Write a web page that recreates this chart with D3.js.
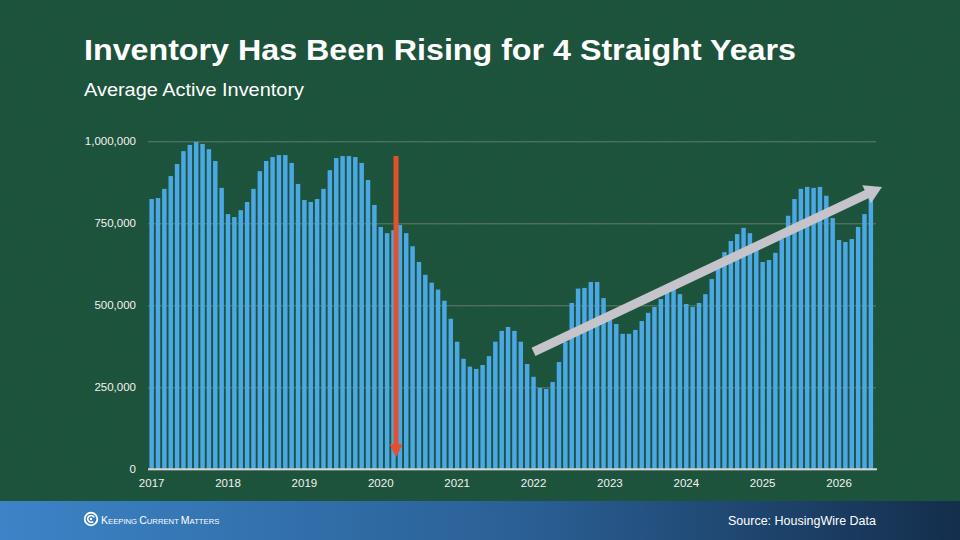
<!DOCTYPE html>
<html>
<head>
<meta charset="utf-8">
<script src="https://cdn.jsdelivr.net/npm/d3@7"></script>
<style>
  html, body { margin: 0; padding: 0; background: #244e34; }
  svg { display: block; }
</style>
</head>
<body>
<script>
// chart values (thousands of homes), monthly Jan 2017 - Jun 2026
var years = ['2017','2018','2019','2020','2021','2022','2023','2024','2025','2026'];
var inventory = [
  824, 827, 855, 894, 931, 970, 989, 998, 992, 976, 940, 858,
  778, 769, 790, 815, 855, 909, 940, 952, 958, 958, 934, 870,
  821, 815, 824, 855, 912, 949, 955, 955, 952, 934, 882, 806,
  739, 720, 729, 745, 720, 680, 632, 593, 569, 548, 514, 459,
  389, 337, 313, 306, 318, 345, 389, 422, 434, 422, 389, 321,
  282, 248, 245, 266, 327, 389, 507, 551, 553, 571, 571, 522,
  465, 443, 413, 413, 425, 452, 477, 495, 519, 540, 550, 534,
  504, 495, 507, 534, 580, 620, 662, 696, 717, 736, 720, 670,
  632, 638, 660, 702, 773, 824, 855, 861, 858, 861, 834, 766,
  699, 693, 702, 739, 778, 830
];
var yTicks = [0, 250000, 500000, 750000, 1000000];
// annotation arrows, in (bar index, value) terms
var dropArrow = { i: 38.4, from: 955000, to: 37000 };
var riseArrow = { i0: 60, v0: 358000, i1: 114.75, v1: 861000 };

var W = 960, H = 540;
var svg = d3.select('body').append('svg')
  .attr('width', W)
  .attr('height', H);

var defs = svg.append('defs');
var noise = defs.append('filter').attr('id', 'noise')
  .attr('x', 0).attr('y', 0).attr('width', '100%').attr('height', '100%');
noise.append('feTurbulence')
  .attr('type', 'fractalNoise')
  .attr('baseFrequency', 0.9)
  .attr('numOctaves', 2)
  .attr('stitchTiles', 'stitch');
noise.append('feColorMatrix')
  .attr('type', 'matrix')
  .attr('values', '0 0 0 0 0  0 0 0 0 0.12  0 0 0 0 0.06  0 0 0 0.45 0');

var grad = defs.append('linearGradient').attr('id', 'foot')
  .attr('x1', '0%').attr('x2', '100%').attr('y1', '0%').attr('y2', '0%');
grad.append('stop').attr('offset', '0%').attr('stop-color', '#3c84c7');
grad.append('stop').attr('offset', '55%').attr('stop-color', '#2a5f94');
grad.append('stop').attr('offset', '100%').attr('stop-color', '#142e4c');

//BACKGROUND
svg.append('rect').attr('width', W).attr('height', H).attr('fill', '#25503a');
svg.append('rect').attr('width', W).attr('height', 501).attr('fill', '#000')
  .attr('filter', 'url(#noise)').attr('opacity', 0.9);

//TITLES
svg.append('text')
  .attr('x', 84).attr('y', 60)
  .attr('textLength', 712).attr('lengthAdjust', 'spacingAndGlyphs')
  .style('font-family', 'Liberation Sans, Arial, sans-serif')
  .style('font-weight', 'bold')
  .style('font-size', '30px')
  .attr('fill', '#fff')
  .text('Inventory Has Been Rising for 4 Straight Years');
svg.append('text')
  .attr('x', 84).attr('y', 96)
  .attr('textLength', 220).attr('lengthAdjust', 'spacingAndGlyphs')
  .style('font-family', 'Liberation Sans, Arial, sans-serif')
  .style('font-size', '18px')
  .attr('fill', '#fff')
  .text('Average Active Inventory');

//SCALES
var x = d3.scaleBand()
  .domain(d3.range(inventory.length))
  .range([147.5, 875])
  .paddingInner(0.3)
  .paddingOuter(0.3);
var y = d3.scaleLinear()
  .domain([0, 1000000])
  .range([469.3, 141.3]);
// continuous position of a bar centre, so annotations can sit between bars
var xc = function(i) { return x(0) + x.bandwidth() / 2 + i * x.step(); };

//GRID + Y AXIS
var yAxis = d3.axisLeft(y)
  .tickValues(yTicks)
  .tickSize(-(876 - 148))
  .tickFormat(d3.format(','));
var gy = svg.append('g')
  .attr('transform', 'translate(148,0)')
  .call(yAxis);
gy.select('.domain').remove();
gy.selectAll('.tick line')
  .attr('stroke', '#7f8f82')
  .attr('stroke-opacity', 0.7)
  .attr('stroke-width', 1);
gy.selectAll('.tick text')
  .attr('x', -12)
  .attr('dy', '0.32em')
  .attr('fill', '#f2f2f2')
  .style('font-family', 'Liberation Sans, Arial, sans-serif')
  .style('font-size', '11.5px');

//BARS
svg.append('g').selectAll('rect')
  .data(inventory)
  .join('rect')
  .attr('x', function(d, i) { return x(i); })
  .attr('width', x.bandwidth())
  .attr('y', function(d) { return y(d * 1000); })
  .attr('height', function(d) { return y(0) - y(d * 1000); })
  .attr('fill', '#4ba8e5');

//X AXIS
svg.append('line')
  .attr('x1', 148).attr('x2', 877)
  .attr('y1', y(0)).attr('y2', y(0))
  .attr('stroke', '#d4d4d4')
  .attr('stroke-width', 2);
var xAxis = d3.axisBottom(x)
  .tickValues(years.map(function(d, k) { return k * 12; }))
  .tickSize(0)
  .tickFormat(function(d) { return years[d / 12]; });
var gx = svg.append('g')
  .attr('transform', 'translate(0,' + y(0) + ')')
  .call(xAxis);
gx.select('.domain').remove();
gx.selectAll('.tick text')
  .attr('y', 10)
  .attr('fill', '#f2f2f2')
  .style('font-family', 'Liberation Sans, Arial, sans-serif')
  .style('font-size', '11.5px');

//RED ARROW (drop in 2020)
var rx = xc(dropArrow.i);
var rTip = y(dropArrow.to);
svg.append('line')
  .attr('x1', rx).attr('x2', rx)
  .attr('y1', y(dropArrow.from)).attr('y2', rTip - 12)
  .attr('stroke', '#e4502d')
  .attr('stroke-width', 5);
svg.append('path')
  .attr('d', 'M' + (rx - 6.5) + ',' + (rTip - 13) + 'L' + (rx + 6.5) + ',' + (rTip - 13) + 'L' + rx + ',' + rTip + 'Z')
  .attr('fill', '#e4502d');

//GREY ARROW (4 year rise)
var p0 = [xc(riseArrow.i0), y(riseArrow.v0)];
var p1 = [xc(riseArrow.i1), y(riseArrow.v1)];
var dx = p1[0] - p0[0], dy = p1[1] - p0[1];
var len = Math.sqrt(dx * dx + dy * dy);
var ux = dx / len, uy = dy / len;
var headL = 17, headW = 10;
var base = [p1[0] - ux * headL, p1[1] - uy * headL];
svg.append('line')
  .attr('x1', p0[0]).attr('y1', p0[1])
  .attr('x2', base[0] + ux * 1).attr('y2', base[1] + uy * 1)
  .attr('stroke', '#c4c4ca')
  .attr('stroke-width', 9);
svg.append('path')
  .attr('d', 'M' + p1[0] + ',' + p1[1] +
    'L' + (base[0] - uy * headW) + ',' + (base[1] + ux * headW) +
    'L' + (base[0] + uy * headW) + ',' + (base[1] - ux * headW) + 'Z')
  .attr('fill', '#c4c4ca');

//FOOTER
svg.append('rect')
  .attr('x', 0).attr('y', 501)
  .attr('width', W).attr('height', H - 501)
  .attr('fill', 'url(#foot)');
var logo = svg.append('g').attr('transform', 'translate(91,519)');
logo.append('circle').attr('r', 6.3).attr('fill', 'none').attr('stroke', '#fff').attr('stroke-width', 1.8);
logo.append('path')
  .attr('d', 'M3.2,-1.5 A3.4,3.4 0 1 0 2.2,2.6')
  .attr('fill', 'none').attr('stroke', '#fff').attr('stroke-width', 1.6);
logo.append('circle').attr('r', 1.2).attr('fill', '#fff');
var brand = svg.append('text')
  .attr('x', 101).attr('y', 524)
  .style('font-family', 'Liberation Sans Narrow, Liberation Sans, Arial, sans-serif')
  .attr('fill', '#fff');
[['K', 'EEPING '], ['C', 'URRENT '], ['M', 'ATTERS']].forEach(function(w) {
  brand.append('tspan').style('font-size', '10.5px').text(w[0]);
  brand.append('tspan').style('font-size', '7.7px').text(w[1]);
});
svg.append('text')
  .attr('x', 876).attr('y', 525)
  .attr('text-anchor', 'end')
  .style('font-family', 'Liberation Sans Narrow, Liberation Sans, Arial, sans-serif')
  .style('font-size', '12.5px')
  .attr('fill', '#fff')
  .text('Source: HousingWire Data');
</script>
</body>
</html>
